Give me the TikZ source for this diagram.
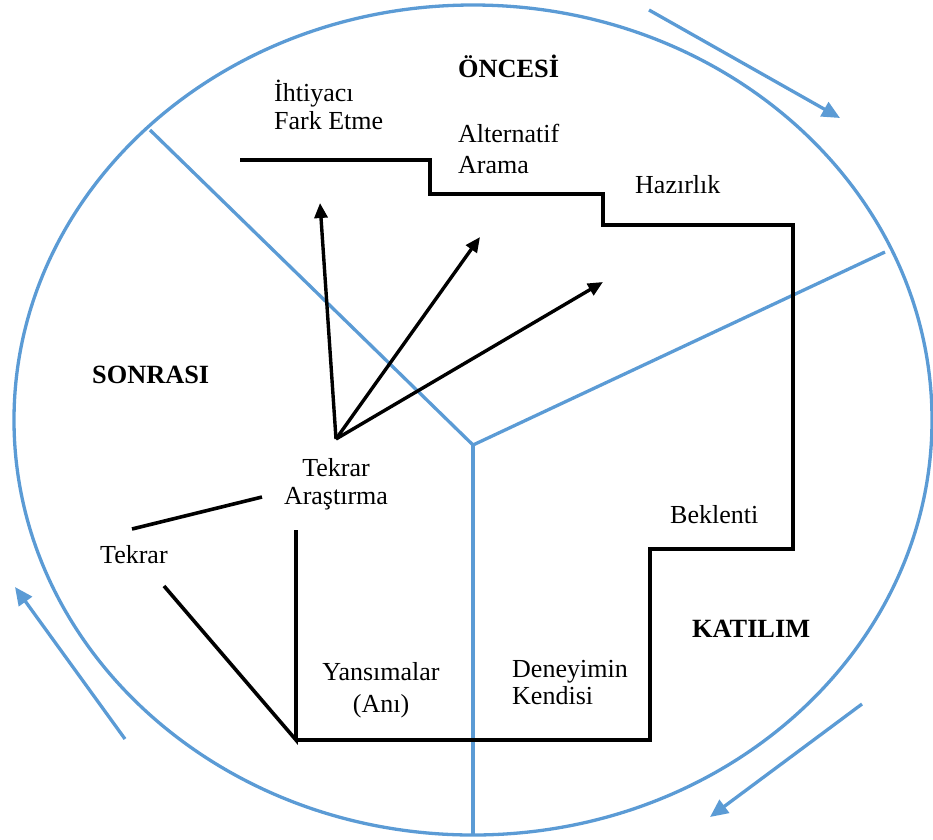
\documentclass[tikz,border=0pt]{standalone}
\usepackage{fontspec}
\setmainfont{Liberation Serif}
\usetikzlibrary{arrows.meta}
\definecolor{cblue}{RGB}{91,155,213}
\begin{document}
\begin{tikzpicture}[x=1pt,y=-1pt,
  blueline/.style={draw=cblue,line width=3.3pt},
  bluearrow/.style={draw=cblue,line width=3.3pt,-{Triangle[length=18pt,width=16pt]}},
  blackline/.style={draw=black,line width=3.6pt,line join=miter},
  blackarrow/.style={draw=black,line width=3.4pt,-{Triangle[length=15pt,width=13pt]}},
  lbl/.style={inner sep=0pt,anchor=base west,font=\fontsize{26}{29}\selectfont},
  ttl/.style={inner sep=0pt,anchor=base west,font=\fontsize{26.3}{29}\selectfont\bfseries}]
\useasboundingbox (0,0) rectangle (933,839);
% circle and dividers
\draw[blueline] (473,420) ellipse [x radius=459, y radius=415];
\coordinate (ctr) at (473,445);
\coordinate (dTL) at (150,130);
\coordinate (dR) at (885,252);
\coordinate (dB) at (473,835);
\draw[blueline] (dTL) -- (ctr) -- (dR);
\draw[blueline] (ctr) -- (dB);
% cycle arrows
\coordinate (a1s) at (649,10); \coordinate (a1e) at (840,118);
\coordinate (a2s) at (862,704); \coordinate (a2e) at (710,817);
\coordinate (a3s) at (125,739); \coordinate (a3e) at (15,587);
\draw[bluearrow] (a1s) -- (a1e);
\draw[bluearrow] (a2s) -- (a2e);
\draw[bluearrow] (a3s) -- (a3e);
% staircase
\coordinate (s0) at (240,160); \coordinate (s1) at (430,160);
\coordinate (s2) at (430,194); \coordinate (s3) at (603,194);
\coordinate (s4) at (603,225); \coordinate (s5) at (793,225);
\coordinate (s6) at (793,549); \coordinate (s7) at (650,549);
\coordinate (s8) at (650,740); \coordinate (s9) at (296,740);
\draw[blackline] (s0) -- (s1) -- (s2) -- (s3) -- (s4) -- (s5) -- (s6) -- (s7) -- (s8) -- (s9);
\coordinate (v0) at (296,530);
\coordinate (g0) at (164,586);
\draw[blackline] (v0) -- (s9) -- (g0);
\coordinate (t0) at (132,529); \coordinate (t1) at (262,497);
\draw[blackline] (t0) -- (t1);
% arrows from re-search
\coordinate (o) at (336,439);
\coordinate (e1) at (320,203);
\coordinate (e2) at (480,237);
\coordinate (e3) at (603,282);
\draw[blackarrow] (o) -- (e1);
\draw[blackarrow] (o) -- (e2);
\draw[blackarrow] (o) -- (e3);
% labels
\node[ttl] (oncesi) at (458,77) {ÖNCESİ};
\node[ttl] (sonrasi) at (92,383) {SONRASI};
\node[ttl] (katilim) at (692,637) {KATILIM};
\node[lbl] (iht1) at (274,101) {İhtiyacı};
\node[lbl] (iht2) at (274,129) {Fark Etme};
\node[lbl] (alt1) at (458,142) {Alternatif};
\node[lbl] (alt2) at (458,173) {Arama};
\node[lbl] (haz) at (635,193) {Hazırlık};
\node[lbl] (bek) at (670,523) {Beklenti};
\node[lbl] (den1) at (512,677) {Deneyimin};
\node[lbl] (den2) at (512,704) {Kendisi};
\node[lbl,anchor=base] (tar1) at (336,476) {Tekrar};
\node[lbl,anchor=base] (tar2) at (336,504) {Araştırma};
\node[lbl] (tek) at (100,563) {Tekrar};
\node[lbl,anchor=base] (yan1) at (381,680) {Yansımalar};
\node[lbl,anchor=base] (yan2) at (381,712) {(Anı)};
\end{tikzpicture}
\end{document}
